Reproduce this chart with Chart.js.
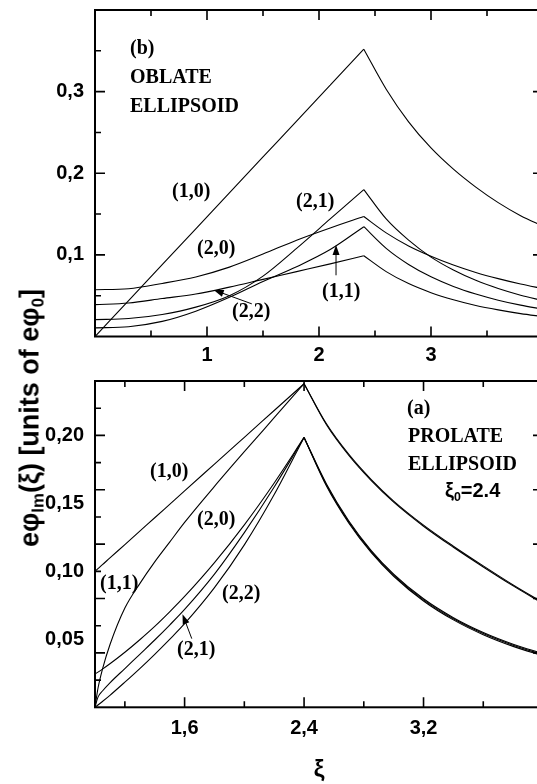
<!DOCTYPE html>
<html>
<head>
<meta charset="utf-8">
<script src="https://cdn.jsdelivr.net/npm/chart.js@4.4.1/dist/chart.umd.min.js"></script>
<style>
  html, body { margin: 0; padding: 0; background: #fff; }
  #wrap { position: relative; width: 537px; height: 784px; overflow: hidden; }
  canvas { position: absolute; left: 0; }
  .lbl {
    position: absolute; transform: translateY(-50%);
    font: bold 20px "Liberation Serif", "Times New Roman", serif;
    line-height: 1; white-space: nowrap; color: #000;
  }
  .sans { font-family: "Liberation Sans", Arial, sans-serif; }
  #ytitle {
    position: absolute; left: 30px; top: 418px;
    transform: translate(-50%, -50%) rotate(-90deg);
    font: bold 27px "Liberation Sans", Arial, sans-serif;
    white-space: nowrap; line-height: 1;
  }
  #xtitle {
    position: absolute; left: 319px; top: 769px;
    transform: translate(-50%, -50%);
    font: bold 24px "Liberation Sans", Arial, sans-serif; line-height: 1;
  }
  sub { font-size: 62%; vertical-align: -0.3em; line-height: 0; }
</style>
</head>
<body>
<div id="wrap">
  <canvas id="topChart" width="560" height="375" style="top:0"></canvas>
  <canvas id="botChart" width="560" height="414" style="top:370px"></canvas>

  <div id="ytitle">eφ<sub>lm</sub>(ξ) [units of eφ<sub>0</sub>]</div>
  <div id="xtitle">ξ</div>

  <!-- panel (b) -->
  <div class="lbl" style="left:130px; top:47px">(b)</div>
  <div class="lbl" style="left:130px; top:76px">OBLATE</div>
  <div class="lbl" style="left:130px; top:105px">ELLIPSOID</div>
  <div class="lbl" style="left:172px; top:190px">(1,0)</div>
  <div class="lbl" style="left:197px; top:247px">(2,0)</div>
  <div class="lbl" style="left:296px; top:200px">(2,1)</div>
  <div class="lbl" style="left:322px; top:290px">(1,1)</div>
  <div class="lbl" style="left:232px; top:310px">(2,2)</div>

  <!-- panel (a) -->
  <div class="lbl" style="left:407px; top:407px">(a)</div>
  <div class="lbl" style="left:408px; top:435px">PROLATE</div>
  <div class="lbl" style="left:408px; top:463px">ELLIPSOID</div>
  <div class="lbl sans" style="left:445px; top:490px">ξ<sub>0</sub>=2.4</div>
  <div class="lbl" style="left:150px; top:470px">(1,0)</div>
  <div class="lbl" style="left:197px; top:518px">(2,0)</div>
  <div class="lbl" style="left:100px; top:582px">(1,1)</div>
  <div class="lbl" style="left:222px; top:592px">(2,2)</div>
  <div class="lbl" style="left:177px; top:648px">(2,1)</div>
</div>

<script>
// ---- panel (b), oblate ellipsoid ----
const topXi = [0, 0.3, 0.6, 0.9, 1.2, 1.5, 1.8, 2.1, 2.4, 2.6, 2.8, 3.0, 3.2, 3.4, 3.6, 3.8, 4.0];
const top10 = [0, 0.044, 0.088, 0.132, 0.176, 0.220, 0.264, 0.308, 0.352, 0.303, 0.263, 0.231, 0.205, 0.183, 0.164, 0.148, 0.135];
const top20 = [0.0573, 0.0585, 0.065, 0.073, 0.085, 0.101, 0.118, 0.133, 0.147, 0.127, 0.111, 0.0984, 0.0876, 0.0785, 0.0709, 0.0643, 0.0586];
const top21 = [0.0207, 0.022, 0.027, 0.036, 0.050, 0.074, 0.108, 0.144, 0.180, 0.144, 0.118, 0.0972, 0.0814, 0.0688, 0.0588, 0.0506, 0.0439];
const top11 = [0.0106, 0.012, 0.0185, 0.031, 0.048, 0.0675, 0.0855, 0.1065, 0.1345, 0.108, 0.0883, 0.0731, 0.0613, 0.052, 0.0445, 0.0384, 0.0334];
const top22 = [0.039, 0.041, 0.0465, 0.052, 0.0605, 0.070, 0.0795, 0.089, 0.099, 0.0795, 0.0648, 0.0537, 0.045, 0.038, 0.0326, 0.028, 0.0244];

const topXLabels = [1, 2, 3];
const topYLabels = [0.1, 0.2, 0.3];

// ---- panel (a), prolate ellipsoid ----
const botXiUp = [1.0, 1.02, 1.05, 1.1, 1.2, 1.3, 1.4, 1.5, 1.6, 1.8, 2.0, 2.2, 2.4];
const bot10Up = [0.100, 0.102, 0.1049, 0.1099, 0.1197, 0.1296, 0.1394, 0.1493, 0.1592, 0.1789, 0.1986, 0.2183, 0.238];
const bot11Up = [0, 0.014, 0.028, 0.046, 0.073, 0.091, 0.107, 0.1215, 0.136, 0.1625, 0.188, 0.213, 0.238];
const bot20Up = [0.0245, 0.0259, 0.0281, 0.032, 0.0405, 0.0497, 0.0595, 0.0702, 0.0815, 0.1064, 0.1342, 0.165, 0.1985];
const bot21Up = [0, 0.0075, 0.012, 0.018, 0.0285, 0.039, 0.0495, 0.0605, 0.072, 0.098, 0.1285, 0.162, 0.1985];
const bot22Up = [0, 0.0017, 0.0043, 0.0088, 0.0185, 0.0285, 0.039, 0.050, 0.0615, 0.088, 0.1195, 0.1565, 0.1985];

const botXiDown = [2.4, 2.55, 2.7, 2.85, 3.0, 3.2, 3.4, 3.6, 3.8, 4.0];
const bot10Down = [0.238, 0.2085, 0.186, 0.1675, 0.1517, 0.134, 0.1185, 0.104, 0.090, 0.077];
const bot11Down = [0.238, 0.2078, 0.1852, 0.1667, 0.1509, 0.1332, 0.1177, 0.1032, 0.0893, 0.0763];
const bot20Down = [0.1985, 0.1643, 0.1370, 0.1153, 0.0980, 0.0798, 0.0659, 0.0550, 0.0464, 0.0395];
const bot21Down = [0.1985, 0.1635, 0.1362, 0.1145, 0.0972, 0.0790, 0.0651, 0.0542, 0.0456, 0.0387];
const bot22Down = [0.1985, 0.1627, 0.1354, 0.1137, 0.0964, 0.0782, 0.0643, 0.0534, 0.0448, 0.0379];

const botXLabels = [1.6, 2.4, 3.2];
const botYLabels = [0.05, 0.10, 0.15, 0.20];

const sansBold = { family: "'Liberation Sans', Arial, sans-serif", size: 20, weight: 'bold' };

function curve(xs, ys) {
    return {
        data: xs.map((x, i) => ({ x: x, y: ys[i] })),
        showLine: true,
        borderColor: '#000',
        borderWidth: 1.1,
        pointRadius: 0,
        cubicInterpolationMode: 'monotone',
        fill: false
    };
}

// split a curve at the cusp (xi0 = 2.4) so the peak stays sharp
function splitCurve(xs, ys) {
    const k = xs.indexOf(2.4);
    return [curve(xs.slice(0, k + 1), ys.slice(0, k + 1)), curve(xs.slice(k), ys.slice(k))];
}

// frame on all four sides, inward ticks, and the little label arrows
const frameTicks = {
    id: 'frameTicks',
    afterDraw(chart, args, o) {
        const { ctx, chartArea: a } = chart;
        const sx = chart.scales.x, sy = chart.scales.y;
        ctx.save();
        ctx.strokeStyle = '#000';
        ctx.fillStyle = '#000';

        ctx.lineWidth = 1.6;
        ctx.beginPath();
        o.xTicks.forEach(([v, len]) => {
            const p = sx.getPixelForValue(v);
            ctx.moveTo(p, a.bottom); ctx.lineTo(p, a.bottom - len);
            ctx.moveTo(p, a.top); ctx.lineTo(p, a.top + len);
        });
        o.yTicks.forEach(([v, len]) => {
            const p = sy.getPixelForValue(v);
            ctx.moveTo(a.left, p); ctx.lineTo(a.left + len, p);
            ctx.moveTo(a.right, p); ctx.lineTo(a.right - len, p);
        });
        ctx.stroke();

        ctx.lineWidth = 2;
        ctx.strokeRect(a.left, a.top, a.right - a.left, a.bottom - a.top);

        ctx.lineWidth = 1;
        o.arrows.forEach(ar => {
            const x0 = sx.getPixelForValue(ar.from[0]), y0 = sy.getPixelForValue(ar.from[1]);
            const x1 = sx.getPixelForValue(ar.to[0]), y1 = sy.getPixelForValue(ar.to[1]);
            const t = Math.atan2(y1 - y0, x1 - x0);
            const c = Math.cos(t), s = Math.sin(t);
            ctx.beginPath();
            ctx.moveTo(x0, y0);
            ctx.lineTo(x1 - 6 * c, y1 - 6 * s);
            ctx.stroke();
            ctx.beginPath();
            ctx.moveTo(x1, y1);
            ctx.lineTo(x1 - 10 * c + 3.5 * s, y1 - 10 * s - 3.5 * c);
            ctx.lineTo(x1 - 10 * c - 3.5 * s, y1 - 10 * s + 3.5 * c);
            ctx.closePath();
            ctx.fill();
        });
        ctx.restore();
    }
};

function panelOptions(p) {
    return {
        responsive: false,
        animation: false,
        layout: { padding: { top: p.padTop, right: 17, left: 0, bottom: 0 } },
        plugins: {
            legend: { display: false },
            tooltip: { enabled: false },
            frameTicks: { xTicks: p.xTicks, yTicks: p.yTicks, arrows: p.arrows }
        },
        scales: {
            x: {
                type: 'linear', min: p.xMin, max: p.xMax,
                grid: { display: false, drawTicks: false },
                border: { display: false },
                ticks: {
                    font: sansBold, color: '#000', padding: p.xPad,
                    autoSkip: false, maxRotation: 0,
                    callback: v => String(v).replace('.', ',')
                },
                afterBuildTicks: s => { s.ticks = p.xLabels.map(v => ({ value: v })); },
                afterFit: s => { s.height = p.xHeight; s.paddingLeft = 0; s.paddingRight = 0; }
            },
            y: {
                type: 'linear', min: p.yMin, max: p.yMax,
                grid: { display: false, drawTicks: false },
                border: { display: false },
                ticks: {
                    font: sansBold, color: '#000', padding: 11,
                    autoSkip: false,
                    callback: v => v.toFixed(p.yDigits).replace('.', ',')
                },
                afterBuildTicks: s => { s.ticks = p.yLabels.map(v => ({ value: v })); },
                afterFit: s => { s.width = 95; s.paddingTop = 0; s.paddingBottom = 0; }
            }
        }
    };
}

// tick marks: [value, length]
const topXTicks = [[0.5, 6], [1, 10], [1.5, 6], [2, 10], [2.5, 6], [3, 10], [3.5, 6]];
const topYTicks = [[0.05, 6], [0.1, 10], [0.15, 6], [0.2, 10], [0.25, 6], [0.3, 10], [0.35, 6]];
const botXTicks = [[1.2, 6], [1.6, 10], [2.0, 6], [2.4, 10], [2.8, 6], [3.2, 10], [3.6, 6]];
const botYTicks = [[0.02, 6], [0.04, 10], [0.06, 6], [0.08, 10], [0.10, 6], [0.12, 10],
                   [0.14, 6], [0.16, 10], [0.18, 6], [0.20, 10], [0.22, 6]];

new Chart(document.getElementById('topChart'), {
    type: 'scatter',
    data: {
        datasets: [top10, top20, top21, top11, top22].flatMap(ys => splitCurve(topXi, ys))
    },
    options: panelOptions({
        padTop: 10, xHeight: 38.5, xPad: 7,
        xMin: 0, xMax: 4, yMin: 0, yMax: 0.4, yDigits: 1,
        xLabels: topXLabels, yLabels: topYLabels,
        xTicks: topXTicks, yTicks: topYTicks,
        arrows: [
            { from: [1.40, 0.040], to: [1.06, 0.057] },
            { from: [2.152, 0.075], to: [2.152, 0.112] }
        ]
    }),
    plugins: [frameTicks]
});

const botPairs = [
    [bot10Up, bot10Down], [bot11Up, bot11Down],
    [bot20Up, bot20Down], [bot21Up, bot21Down], [bot22Up, bot22Down]
];

new Chart(document.getElementById('botChart'), {
    type: 'scatter',
    data: {
        datasets: botPairs.flatMap(([up, down]) => [curve(botXiUp, up), curve(botXiDown, down)])
    },
    options: panelOptions({
        padTop: 11, xHeight: 76.7, xPad: 9,
        xMin: 1, xMax: 4, yMin: 0, yMax: 0.24, yDigits: 2,
        xLabels: botXLabels, yLabels: botYLabels,
        xTicks: botXTicks, yTicks: botYTicks,
        arrows: [
            { from: [1.648, 0.0505], to: [1.586, 0.0685] }
        ]
    }),
    plugins: [frameTicks]
});
</script>
</body>
</html>
